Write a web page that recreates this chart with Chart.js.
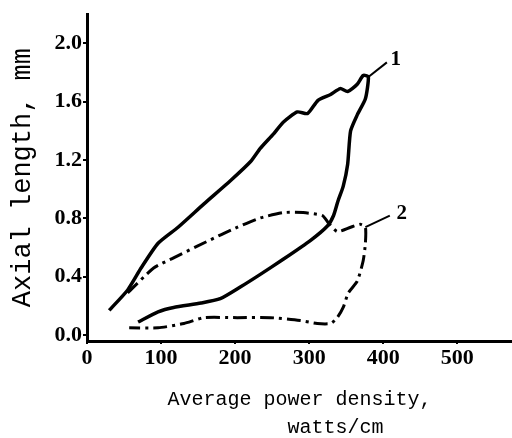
<!DOCTYPE html>
<html>
<head>
<meta charset="utf-8">
<script src="https://cdn.jsdelivr.net/npm/chart.js@4.4.0/dist/chart.umd.min.js"></script>
<style>
  html, body { margin: 0; padding: 0; background: #fff; }
  #wrap { width: 512px; height: 438px; }
</style>
</head>
<body>
<div id="wrap"><canvas id="chart" width="512" height="438"></canvas></div>
<script>
const xTicks = [0, 100, 200, 300, 400, 500];
const yTicks = [0, 0.4, 0.8, 1.2, 1.6, 2.0];

// curve 1 (solid): up the upper branch, down the right side, back along the lower branch
const curve1X = [30, 55, 73, 96, 123, 158, 194, 221, 234, 252, 265, 284, 298, 312, 329, 342, 352, 365, 373, 380,
                 376, 365, 356, 352, 346, 339, 333, 325,
                 302, 265, 232, 207, 180, 154, 117, 96, 69];
const curve1Y = [0.17, 0.31, 0.46, 0.63, 0.74, 0.90, 1.06, 1.19, 1.28, 1.38, 1.46, 1.53, 1.52, 1.61, 1.65, 1.69, 1.67, 1.72, 1.78, 1.77,
                 1.62, 1.51, 1.40, 1.17, 1.02, 0.92, 0.82, 0.75,
                 0.65, 0.52, 0.41, 0.33, 0.25, 0.22, 0.19, 0.16, 0.09];

// curve 2 (dash-dot): same path order
const curve2X = [55, 90, 117, 149, 190, 232, 265, 292, 318, 326, 338, 356, 369, 376,
                 376, 373, 365, 353, 346, 338, 329,
                 311, 288, 248, 203, 158, 131, 96, 57];
const curve2Y = [0.29, 0.46, 0.53, 0.61, 0.71, 0.80, 0.84, 0.84, 0.82, 0.77, 0.71, 0.74, 0.76, 0.74,
                 0.63, 0.51, 0.37, 0.29, 0.19, 0.12, 0.08,
                 0.08, 0.10, 0.12, 0.12, 0.12, 0.08, 0.05, 0.05];

// curve numbers and their leader lines
const curveNames = ['1', '2'];
const nameX = [410, 418];
const nameY = [1.89, 0.83];
const leaderX = [[380, 405], [376, 409]];
const leaderY = [[1.77, 1.87], [0.74, 0.82]];

function toPoints(xs, ys) {
    return xs.map((x, i) => ({x: x, y: ys[i]}));
}

const curveNamePlugin = {
    id: 'curveNames',
    afterDatasetsDraw(chart) {
        const {ctx, scales: {x, y}} = chart;
        ctx.save();
        ctx.font = 'bold 21px "Liberation Serif"';
        ctx.fillStyle = '#000';
        ctx.textAlign = 'left';
        ctx.textBaseline = 'middle';
        curveNames.forEach((name, i) => {
            ctx.fillText(name, x.getPixelForValue(nameX[i]), y.getPixelForValue(nameY[i]));
        });
        ctx.restore();
    }
};

const datasets = [
    {
        label: '1',
        data: toPoints(curve1X, curve1Y),
        borderColor: '#000',
        borderWidth: 3.5,
        tension: 0.2
    },
    {
        label: '2',
        data: toPoints(curve2X, curve2Y),
        borderColor: '#000',
        borderWidth: 3,
        borderDash: [14, 5, 3, 5],
        tension: 0.2
    }
];
leaderX.forEach((xs, i) => {
    datasets.push({
        label: 'leader ' + curveNames[i],
        data: toPoints(xs, leaderY[i]),
        borderColor: '#000',
        borderWidth: 2,
        tension: 0
    });
});
datasets.forEach(d => {
    d.showLine = true;
    d.pointRadius = 0;
    d.fill = false;
});

const ctx = document.getElementById('chart').getContext('2d');
const chart = new Chart(ctx, {
    type: 'scatter',
    data: { datasets: datasets },
    plugins: [curveNamePlugin],
    options: {
        responsive: false,
        animation: false,
        layout: { padding: { top: 12, right: 0, left: 0, bottom: 0 } },
        plugins: {
            legend: { display: false },
            tooltip: { enabled: false }
        },
        scales: {
            x: {
                type: 'linear',
                min: 0,
                max: 574,
                afterBuildTicks: scale => { scale.ticks = xTicks.map(v => ({value: v})); },
                afterFit: scale => { scale.height = 97; },
                border: { display: true, color: '#000', width: 3 },
                grid: { drawOnChartArea: false, tickLength: 3, color: '#000', lineWidth: 2 },
                ticks: {
                    color: '#000',
                    padding: 1,
                    maxRotation: 0,
                    font: { family: '"Liberation Serif"', size: 22, weight: 'bold' }
                },
                title: {
                    display: true,
                    text: ['Average power density,', '      watts/cm'],
                    color: '#000',
                    padding: { top: 0, bottom: -4 },
                    font: { family: '"Liberation Mono"', size: 20, lineHeight: 1.4 }
                }
            },
            y: {
                type: 'linear',
                min: -0.04,
                max: 2.2,
                afterBuildTicks: scale => { scale.ticks = yTicks.map(v => ({value: v})); },
                afterFit: scale => { scale.width = 87; },
                border: { display: true, color: '#000', width: 3 },
                grid: { drawOnChartArea: false, tickLength: 4, color: '#000', lineWidth: 2 },
                ticks: {
                    color: '#000',
                    padding: 1,
                    font: { family: '"Liberation Serif"', size: 22, weight: 'bold' },
                    callback: v => v.toFixed(1)
                },
                title: {
                    display: true,
                    text: 'Axial length, mm',
                    color: '#000',
                    padding: { top: 7, bottom: 0 },
                    font: { family: '"Liberation Mono"', size: 27, lineHeight: 1.2 }
                }
            }
        }
    }
});
</script>
</body>
</html>
